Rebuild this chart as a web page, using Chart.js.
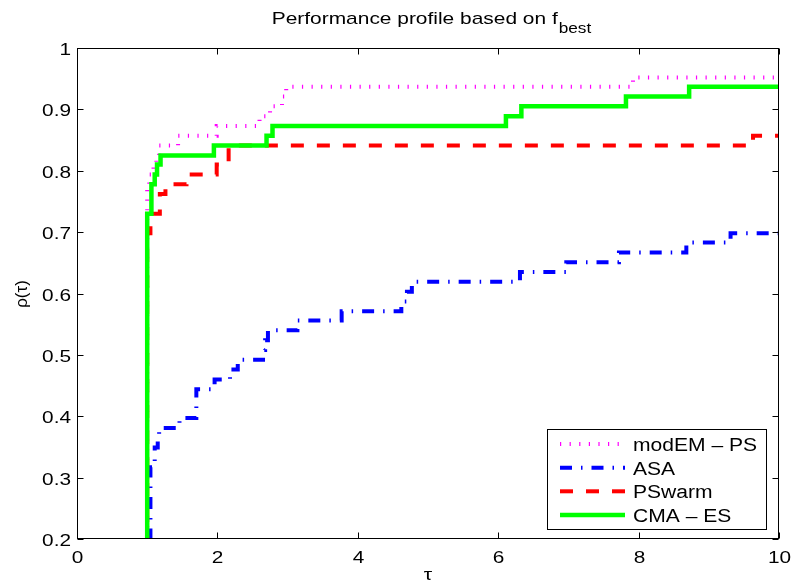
<!DOCTYPE html>
<html><head><meta charset="utf-8">
<script src="https://cdn.jsdelivr.net/npm/chart.js@4.4.1/dist/chart.umd.min.js"></script>
<style>html,body{margin:0;padding:0;background:#fff;}#wrap{width:794px;height:586px;}</style>
</head><body>
<div id="wrap"><canvas id="c" width="794" height="586"></canvas></div>
<script>
// ---- data ----
const seriesNames = ['modEM \u2013 PS', 'ASA', 'PSwarm', 'CMA \u2013 ES'];

const modemTau = [1.00, 1.00, 1.03, 1.09, 1.13, 1.17, 1.44, 1.99, 2.60, 2.75, 2.92, 2.98, 7.92, 10.00];
const modemRho = [0.016, 0.778, 0.794, 0.810, 0.825, 0.841, 0.857, 0.873, 0.889, 0.905, 0.921, 0.937, 0.952, 0.952];

const asaTau = [1.00, 1.046, 1.107, 1.15, 1.17, 1.46, 1.70, 1.96, 2.18, 2.29, 2.65, 2.68, 2.72, 3.14, 3.77, 4.62, 4.70, 4.77, 6.31, 6.97, 7.72, 8.68, 9.31, 10.00];
const asaRho = [0.100, 0.317, 0.349, 0.365, 0.381, 0.397, 0.444, 0.460, 0.476, 0.492, 0.508, 0.524, 0.540, 0.556, 0.571, 0.587, 0.603, 0.619, 0.635, 0.651, 0.667, 0.683, 0.698, 0.698];

const pswarmTau = [1.00, 1.00, 1.046, 1.18, 1.26, 1.56, 1.99, 2.16, 9.63, 10.00];
const pswarmRho = [0.016, 0.698, 0.730, 0.762, 0.778, 0.794, 0.810, 0.841, 0.857, 0.857];

const cmaTau = [1.00, 1.00, 1.06, 1.107, 1.14, 1.19, 1.95, 2.70, 2.785, 6.11, 6.33, 7.82, 8.72, 10.00];
const cmaRho = [0.016, 0.730, 0.778, 0.794, 0.810, 0.825, 0.841, 0.857, 0.873, 0.889, 0.905, 0.921, 0.937, 0.937];

const xTickLabels = ['0', '2', '4', '6', '8', '10'];
const yTickLabels = ['0.2', '0.3', '0.4', '0.5', '0.6', '0.7', '0.8', '0.9', '1'];
const titleMain = 'Performance profile based on f';
const titleSub = 'best';
const xAxisLabel = '\u03C4';
const yAxisLabel = '\u03C1(\u03C4)';

// ---- helpers ----
function pts(t, r) { return t.map((v, i) => ({ x: v, y: r[i] })); }
const FONT = '"Liberation Sans", Arial, Helvetica, sans-serif';
function sText(ctx, txt, x, y, sx, align, size) {
  ctx.save();
  ctx.font = size + 'px ' + FONT;
  ctx.translate(x, y);
  ctx.scale(sx, 1);
  ctx.textAlign = align;
  ctx.textBaseline = 'alphabetic';
  ctx.fillText(txt, 0, 0);
  ctx.restore();
}
function hl(ctx, x1, x2, y) { ctx.beginPath(); ctx.moveTo(x1, y); ctx.lineTo(x2, y); ctx.stroke(); }
function vl(ctx, x, y1, y2) { ctx.beginPath(); ctx.moveTo(x, y1); ctx.lineTo(x, y2); ctx.stroke(); }

const matlabPlugin = {
  id: 'matlab',
  afterDatasetsDraw(chart) {
    const { ctx, chartArea: a, scales } = chart;
    const xs = scales.x, ys = scales.y;
    const L = Math.round(a.left) + 0.5, R = Math.round(a.right) - 0.5;
    const T = Math.round(a.top) + 0.5, B = Math.round(a.bottom) - 0.5;
    ctx.save();
    ctx.fillStyle = '#000';
    ctx.strokeStyle = '#000';
    ctx.lineWidth = 1;
    ctx.setLineDash([]);
    // box
    ctx.strokeRect(L, T, R - L, B - T);
    // ticks (inward) and labels
    const tl = 6;
    xs.ticks.forEach((t, i) => {
      const px = Math.round(xs.getPixelForTick(i)) + 0.5;
      vl(ctx, px, B, B - tl);
      vl(ctx, px, T, T + tl);
      sText(ctx, t.label, px, 563, 1.3, 'center', 16);
    });
    ys.ticks.forEach((t, i) => {
      const py = Math.round(ys.getPixelForTick(i)) + 0.5;
      hl(ctx, L, L + tl, py);
      hl(ctx, R, R - tl, py);
      sText(ctx, t.label, 71, py + 6, 1.3, 'right', 16);
    });
    // title with subscript
    ctx.font = '17px ' + FONT;
    const w1 = ctx.measureText(titleMain).width * 1.23;
    ctx.font = '14px ' + FONT;
    const w2 = ctx.measureText(titleSub).width * 1.23;
    const sx0 = 431 - (w1 + w2) / 2;
    sText(ctx, titleMain, sx0, 24, 1.23, 'left', 17);
    sText(ctx, titleSub, sx0 + w1 + 1, 33, 1.23, 'left', 14);
    // axis labels
    sText(ctx, xAxisLabel, (a.left + a.right) / 2, 580, 1.25, 'center', 17);
    ctx.save();
    ctx.translate(27, 294);
    ctx.rotate(-Math.PI / 2);
    ctx.font = '17px ' + FONT;
    ctx.textAlign = 'center';
    ctx.textBaseline = 'alphabetic';
    ctx.fillText(yAxisLabel, 0, 0);
    ctx.restore();
    // legend
    const lx = 547.5, ly = 429.5, lw = 219, lh = 100;
    ctx.fillStyle = '#fff';
    ctx.fillRect(lx, ly, lw, lh);
    ctx.strokeStyle = '#000';
    ctx.lineWidth = 1;
    ctx.strokeRect(lx, ly, lw, lh);
    const base = [451, 474.7, 498.3, 522];
    chart.data.datasets.forEach((ds, i) => {
      const cy = base[i] - 7;
      ctx.save();
      ctx.strokeStyle = ds.borderColor;
      ctx.lineWidth = ds.borderWidth;
      ctx.setLineDash(ds.borderDash || []);
      ctx.lineCap = 'butt';
      ctx.beginPath();
      ctx.moveTo(560, cy);
      ctx.lineTo(625, cy);
      ctx.stroke();
      ctx.restore();
      ctx.fillStyle = '#000';
      sText(ctx, ds.label, 633, base[i], 1.17, 'left', 18);
    });
    ctx.restore();
  }
};

const common = { stepped: true, pointRadius: 0, pointHoverRadius: 0, fill: false, clip: 0, borderJoinStyle: 'miter', borderCapStyle: 'butt', tension: 0 };

new Chart(document.getElementById('c').getContext('2d'), {
  type: 'line',
  data: {
    datasets: [
      Object.assign({ label: seriesNames[0], data: pts(modemTau, modemRho), borderColor: '#ff00ff', borderWidth: 4, borderDash: [1.2, 8.4], order: 4 }, common),
      Object.assign({ label: seriesNames[1], data: pts(asaTau, asaRho), borderColor: '#0000ff', borderWidth: 4, borderDash: [12, 9, 1.5, 9], order: 3 }, common),
      Object.assign({ label: seriesNames[2], data: pts(pswarmTau, pswarmRho), borderColor: '#ff0000', borderWidth: 4, borderDash: [13, 13], order: 2 }, common),
      Object.assign({ label: seriesNames[3], data: pts(cmaTau, cmaRho), borderColor: '#00ff00', borderWidth: 4.5, borderDash: [], order: 1 }, common)
    ]
  },
  options: {
    responsive: false,
    animation: false,
    devicePixelRatio: 1,
    events: [],
    layout: { padding: { top: 48, right: 15, left: 0, bottom: 0 } },
    plugins: { legend: { display: false }, tooltip: { enabled: false }, title: { display: false } },
    scales: {
      x: {
        type: 'linear', min: 0, max: 10,
        ticks: { stepSize: 2, display: false, callback: (v, i) => xTickLabels[i] },
        grid: { display: false }, border: { display: false },
        afterFit: s => { s.height = 47; }
      },
      y: {
        type: 'linear', min: 0.2, max: 1,
        ticks: { stepSize: 0.1, display: false, callback: (v, i) => yTickLabels[i] },
        grid: { display: false }, border: { display: false },
        afterFit: s => { s.width = 77; }
      }
    }
  },
  plugins: [matlabPlugin]
});
</script>
</body></html>
